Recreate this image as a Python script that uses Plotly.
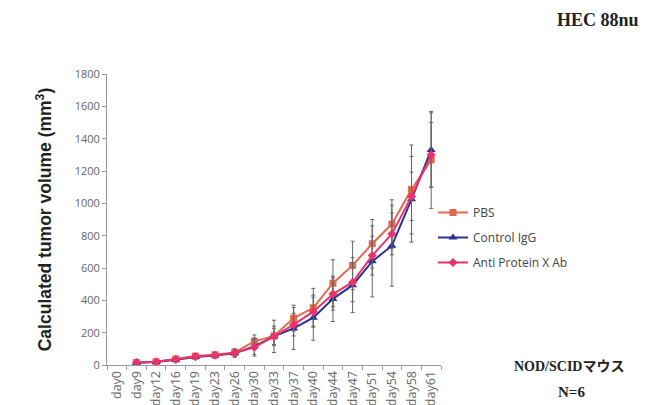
import plotly.graph_objects as go

days = ["day0", "day9", "day12", "day16", "day19", "day23", "day26", "day30", "day33",
        "day37", "day40", "day44", "day47", "day51", "day54", "day58", "day61"]

pbs = [None, 15, 20, 37, 55, 63, 78, 146, 180, 290, 354, 506, 616, 750, 872, 1086, 1269]
pbs_err = [None, 6, 8, 10, 14, 16, 22, 40, 60, 80, 120, 145, 150, 150, 150, 275, 300]

igg = [None, 14, 18, 33, 50, 58, 72, 116, 177, 226, 293, 409, 494, 641, 738, 1025, 1330]
igg_err = [None, 6, 8, 10, 12, 15, 25, 50, 100, 130, 140, 140, 170, 220, 250, 265, 230]

anti = [None, 16, 20, 35, 52, 60, 75, 110, 177, 250, 330, 439, 512, 677, 811, 1043, 1300]
anti_err = [None, 5, 7, 9, 12, 14, 20, 55, 50, 70, 90, 100, 120, 120, 130, 150, 200]

y_ticks = [0, 200, 400, 600, 800, 1000, 1200, 1400, 1600, 1800]

L, R, T, B = 107, 441, 74, 365
W, H = 665, 405

fig = go.Figure()

def add(name, vals, errs, color, symbol, size):
    fig.add_trace(go.Scatter(
        x=days, y=vals, name=name, mode="lines+markers",
        legendgroup=name,
        line=dict(color=color, width=2),
        marker=dict(symbol=symbol, size=size, color=color),
        error_y=dict(type="data", array=errs, visible=True, color="#666666",
                     thickness=1, width=2),
        connectgaps=False,
    ))

add("PBS", pbs, pbs_err, "#E06A4E", "square", 7)
add("Control IgG", igg, igg_err, "#2E3192", "triangle-up", 8)
add("Anti Protein X Ab", anti, anti_err, "#E8336B", "diamond", 7)

def px(x):
    return (x - L) / (R - L)

def py(y):
    return (B - y) / (B - T)

fig.update_layout(
    width=W, height=H,
    paper_bgcolor="white", plot_bgcolor="white",
    margin=dict(l=L, r=W - R, t=T, b=H - B, autoexpand=False),
    showlegend=True,
    legend=dict(x=px(433), y=py(198), xanchor="left", yanchor="top",
                font=dict(family="Open Sans, Liberation Sans", size=12, color="#444444"),
                tracegroupgap=6, itemwidth=30, bgcolor="rgba(0,0,0,0)"),
    font=dict(family="Open Sans, Liberation Sans", color="#555555"),
)

fig.update_xaxes(
    type="category", categoryorder="array", categoryarray=days,
    range=[-0.5, len(days) - 0.5],
    showline=True, linecolor="#999999", linewidth=1,
    ticks="outside", ticklen=4, tickcolor="#999999", tickson="boundaries",
    tickangle=-90, tickfont=dict(size=12.5, color="#666666"),
    showgrid=False, zeroline=False, automargin=False,
)

fig.update_yaxes(
    range=[0, 1800], tickvals=y_ticks,
    showline=True, linecolor="#999999", linewidth=1,
    ticks="outside", ticklen=4, tickcolor="#999999",
    tickfont=dict(size=11, color="#666666"),
    showgrid=False, zeroline=False, automargin=False,
    title=dict(text="<b>Calculated tumor volume (mm<sup>3</sup>)</b>",
               font=dict(family="Liberation Sans", size=17.5, color="#222222"),
               standoff=18),
)

fig.add_annotation(text="<b>HEC 88nu</b>", xref="paper", yref="paper",
                   x=px(641), y=py(20),
                   xanchor="right", yanchor="middle", showarrow=False,
                   font=dict(family="Liberation Serif", size=18, color="#222222"))
fig.add_annotation(text="<b>NOD/SCIDマウス</b>", xref="paper", yref="paper",
                   x=px(569), y=py(366),
                   xanchor="center", yanchor="middle", showarrow=False,
                   font=dict(family="Liberation Serif, Noto Sans CJK JP", size=14, color="#222222"))
fig.add_annotation(text="<b>N=6</b>", xref="paper", yref="paper",
                   x=px(571), y=py(392),
                   xanchor="center", yanchor="middle", showarrow=False,
                   font=dict(family="Liberation Serif", size=15, color="#222222"))

fig.write_html("out.html",
               config={"displayModeBar": False},
               post_script="document.body.style.margin='0';document.body.style.overflow='hidden';")
